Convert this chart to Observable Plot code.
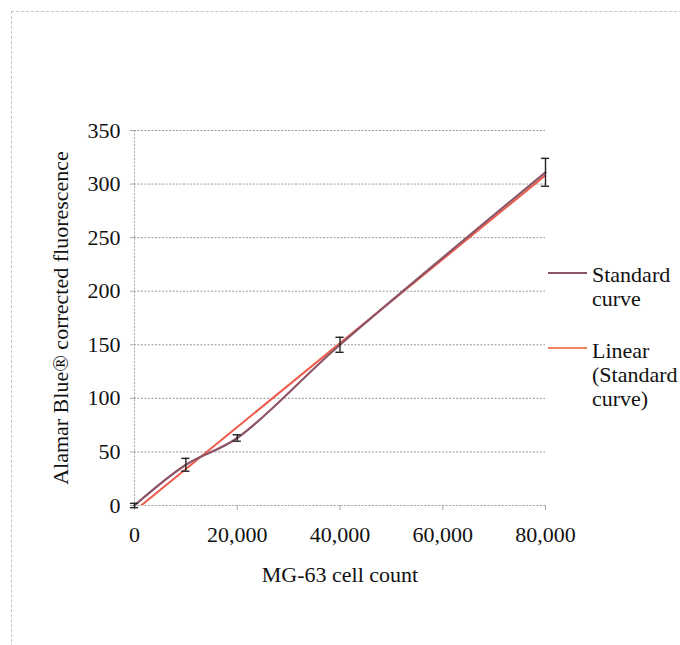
<!DOCTYPE html>
<html><head><meta charset="utf-8">
<script src="https://cdn.jsdelivr.net/npm/d3@7"></script>
<script src="https://cdn.jsdelivr.net/npm/@observablehq/plot@0.6"></script>
<style>
body{margin:0;background:#fff;}
#wrap{position:relative;width:680px;height:645px;overflow:hidden;font-family:"Liberation Serif","DejaVu Serif",serif;background:#fff;}
#frame{position:absolute;left:11px;top:11px;width:720px;height:720px;border-left:1px dashed #c4c4c4;border-top:1px dashed #c4c4c4;}
#chart{position:absolute;left:0;top:0;}
.leg{position:absolute;left:592px;font-size:22px;line-height:24px;color:#111;white-space:nowrap;font-family:"Liberation Serif","DejaVu Serif",serif;}
.sw{position:absolute;left:548px;width:39px;height:2px;}
</style></head><body>
<div id="wrap"><div id="frame"></div><div id="chart"></div></div>
<script>
const cellCount = [0, 10000, 20000, 40000, 80000];
const fluorescence = [0, 38, 63, 150, 311];
const errorSize = [2, 6, 3, 7, 13];
const xTicks = [0, 20000, 40000, 60000, 80000];
const yTicks = [0, 50, 100, 150, 200, 250, 300, 350];
const seriesNames = ["Standard curve", "Linear (Standard curve)"];
const seriesColors = ["#8B5566", "#EF5B4B"];
const legendSwatch = ["#8B5566", "#F4845F"];

const data = cellCount.map((x, i) => ({
  x, y: fluorescence[i],
  lo: fluorescence[i] - errorSize[i],
  hi: fluorescence[i] + errorSize[i]
}));

const capHalf = 800;
const chart = Plot.plot({
  width: 680, height: 645,
  marginLeft: 134, marginRight: 135, marginTop: 130, marginBottom: 140,
  x: {domain: [0, 80000]},
  y: {domain: [0, 350]},
  style: {fontFamily: "Liberation Serif, DejaVu Serif, serif", fontSize: "22px", color: "#111", background: "transparent"},
  marks: [
    Plot.gridY(yTicks, {stroke: "#999", strokeOpacity: 1, strokeDasharray: "2,1.5"}),
    Plot.ruleX([0], {stroke: "#aaa", strokeDasharray: "2,1.5"}),
    Plot.ruleY([0], {stroke: "#aaa", strokeDasharray: "2,1.5"}),
    Plot.axisY(yTicks, {tickSize: 4, tickPadding: 10, stroke: "#aaa", fill: "#111",
      label: "Alamar Blue® corrected fluorescence", labelAnchor: "center", labelArrow: "none", labelOffset: 82}),
    Plot.axisX(xTicks, {tickSize: 5, tickPadding: 16, tickFormat: d3.format(","), stroke: "#aaa", fill: "#111",
      label: "MG-63 cell count", labelAnchor: "center", labelArrow: "none", labelOffset: 76}),
    Plot.linearRegressionY(data, {x: "x", y: "y", stroke: seriesColors[1], strokeWidth: 2, ci: 0, clip: true}),
    Plot.line(data, {x: "x", y: "y", curve: "catmull-rom", stroke: seriesColors[0], strokeWidth: 2.2}),
    Plot.ruleX(data, {x: "x", y1: "lo", y2: "hi", stroke: "#222", strokeWidth: 1.4}),
    Plot.ruleY(data, {y: "lo", x1: d => d.x - capHalf, x2: d => d.x + capHalf, stroke: "#222", strokeWidth: 1.4}),
    Plot.ruleY(data, {y: "hi", x1: d => d.x - capHalf, x2: d => d.x + capHalf, stroke: "#222", strokeWidth: 1.4})
  ]
});
document.getElementById("chart").appendChild(chart);

const wrap = document.getElementById("wrap");
const legendTops = [263, 339];
const swatchTops = [272, 347];
const legendLines = [["Standard", "curve"], ["Linear", "(Standard", "curve)"]];
seriesNames.forEach((name, i) => {
  const sw = document.createElement("div");
  sw.className = "sw";
  sw.style.top = swatchTops[i] + "px";
  sw.style.background = legendSwatch[i];
  wrap.appendChild(sw);
  const t = document.createElement("div");
  t.className = "leg";
  t.style.top = legendTops[i] + "px";
  t.innerHTML = legendLines[i].join("<br>");
  t.title = name;
  wrap.appendChild(t);
});
</script>
</body></html>
